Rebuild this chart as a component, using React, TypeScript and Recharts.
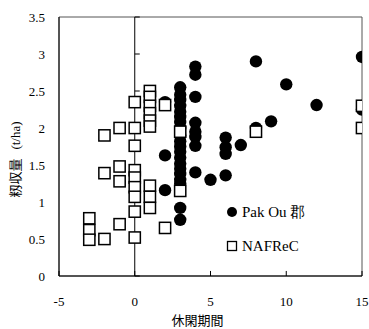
import {
  ScatterChart,
  Scatter,
  XAxis,
  YAxis,
  ReferenceLine,
  ReferenceArea,
  Legend,
} from "recharts";

// Pak Ou 郡 (black circles)
const pakOuX = [
  2, 2, 2,
  3, 3, 3, 3, 3, 3, 3, 3, 3, 3, 3, 3, 3, 3, 3, 3, 3, 3, 3, 3,
  4, 4, 4, 4, 4, 4, 4, 4,
  5,
  6, 6, 6, 6,
  7,
  8, 8,
  9,
  10,
  12,
  15, 15,
];
const pakOuY = [
  2.35, 1.63, 1.16,
  2.55, 2.45, 2.38, 2.3, 2.22, 2.15, 2.08, 2.0, 1.9, 1.82, 1.75, 1.68, 1.6, 1.52, 1.45, 1.38, 1.3, 1.25, 0.92, 0.76,
  2.83, 2.72, 2.42, 2.07, 1.95, 1.88, 1.76, 1.4,
  1.3,
  1.87, 1.74, 1.65, 1.36,
  1.77,
  2.9, 2.0,
  2.09,
  2.59,
  2.31,
  2.96, 2.25,
];

// NAFReC (white squares)
const nafrecX = [
  -3, -3, -3,
  -2, -2, -2,
  -1, -1, -1, -1,
  0, 0, 0, 0, 0, 0, 0, 0, 0,
  1, 1, 1, 1, 1, 1, 1, 1, 1,
  2, 2,
  3, 3,
  8,
  15, 15,
];
const nafrecY = [
  0.78, 0.62, 0.49,
  1.9, 1.39, 0.5,
  2.0, 1.48, 1.28, 0.7,
  2.35, 2.0, 1.76, 1.43, 1.33, 1.2, 1.07, 0.87, 0.52,
  2.5, 2.42, 2.3, 2.2, 2.1, 2.02, 1.22, 1.07, 0.92,
  2.31, 0.65,
  1.95, 1.15,
  1.95,
  2.3, 2.0,
];

const xTicks = [-5, 0, 5, 10, 15];
const yTicks = [0, 0.5, 1, 1.5, 2, 2.5, 3, 3.5];
const seriesNames = ["Pak Ou 郡", "NAFReC"];

const pakOuData = pakOuX.map((x, i) => ({ x, y: pakOuY[i] }));
const nafrecData = nafrecX.map((x, i) => ({ x, y: nafrecY[i] }));

const serif = "Liberation Serif, Times, serif";
const cjk = "Noto Sans CJK JP, sans-serif";

const CircleDot = (props: any) => (
  <circle cx={props.cx} cy={props.cy} r={6.2} fill="#000" />
);

const SquareDot = (props: any) => (
  <rect
    x={props.cx - 5.6}
    y={props.cy - 5.6}
    width={11.2}
    height={11.2}
    fill="#fff"
    stroke="#000"
    strokeWidth={1.5}
  />
);

const renderLegend = (props: any) => {
  const items = [...(props.payload || [])].sort(
    (a: any, b: any) => seriesNames.indexOf(a.value) - seriesNames.indexOf(b.value)
  );
  return (
    <div style={{ fontFamily: serif, fontSize: 15, color: "#000" }}>
      {items.map((entry: any) => (
        <div
          key={entry.value}
          style={{ display: "flex", alignItems: "center", height: 34 }}
        >
          <svg width={12} height={12}>
            {entry.value === seriesNames[0] ? (
              <circle cx={6} cy={6} r={5} fill="#000" />
            ) : (
              <rect
                x={1.5}
                y={1.5}
                width={9}
                height={9}
                fill="#fff"
                stroke="#000"
                strokeWidth={1.3}
              />
            )}
          </svg>
          <span style={{ marginLeft: 4, whiteSpace: "nowrap" }}>
            {entry.value}
          </span>
        </div>
      ))}
    </div>
  );
};

const YLabel = (props: any) => {
  const vb = props.viewBox || { x: 0, y: 0, width: 0, height: 0 };
  const cx = vb.x + 20;
  const cy = vb.y + vb.height / 2 + 13;
  return (
    <text
      x={cx}
      y={cy}
      transform={`rotate(-90, ${cx}, ${cy})`}
      textAnchor="middle"
      fill="#000"
    >
      <tspan fontFamily={cjk} fontSize={13}>
        籾収量
      </tspan>
      <tspan fontFamily={serif} fontSize={13} dx={9}>
        (t/ha)
      </tspan>
    </text>
  );
};

const XLabel = (props: any) => {
  const vb = props.viewBox || { x: 0, y: 0, width: 0, height: 0 };
  return (
    <text
      x={vb.x + vb.width / 2 - 13}
      y={vb.y + 49}
      textAnchor="middle"
      fontFamily={cjk}
      fontSize={13}
      fill="#000"
    >
      休閑期間
    </text>
  );
};

export default function App() {
  return (
    <div style={{ position: "absolute", left: 0, top: 0, background: "#fff" }}>
      <ScatterChart
        width={369}
        height={329}
        margin={{ top: 17, right: 7, bottom: 0, left: 0 }}
        style={{ fontFamily: serif }}
      >
        <ReferenceArea
          x1={-5}
          x2={15}
          y1={0}
          y2={3.5}
          fill="none"
          fillOpacity={0}
          stroke="#555"
          strokeWidth={1}
          ifOverflow="visible"
        />
        <ReferenceLine x={0} stroke="#000" strokeWidth={1} />
        {yTicks.map((t) => (
          <ReferenceLine
            key={"yt" + t}
            segment={[
              { x: 0, y: t },
              { x: 0.33, y: t },
            ]}
            stroke="#000"
            strokeWidth={1}
          />
        ))}
        {xTicks.map((t) => (
          <ReferenceLine
            key={"xt" + t}
            segment={[
              { x: t, y: 0 },
              { x: t, y: 0.068 },
            ]}
            stroke="#000"
            strokeWidth={1}
          />
        ))}
        <XAxis
          type="number"
          dataKey="x"
          domain={[-5, 15]}
          ticks={xTicks}
          allowDataOverflow
          height={53}
          tickLine={false}
          tickMargin={15}
          axisLine={{ stroke: "#000" }}
          tick={{ fill: "#000", fontFamily: serif, fontSize: 13 }}
          label={{ content: XLabel }}
        />
        <YAxis
          type="number"
          dataKey="y"
          domain={[0, 3.5]}
          ticks={yTicks}
          allowDataOverflow
          width={59}
          tickLine={false}
          tickMargin={8}
          axisLine={{ stroke: "#000" }}
          tick={{ fill: "#000", fontFamily: serif, fontSize: 13 }}
          label={{ content: YLabel }}
        />
        <Scatter
          name={seriesNames[0]}
          data={pakOuData}
          shape={CircleDot}
          fill="#000"
          isAnimationActive={false}
        />
        <Scatter
          name={seriesNames[1]}
          data={nafrecData}
          shape={SquareDot}
          fill="#fff"
          isAnimationActive={false}
        />
        <Legend
          layout="vertical"
          align="center"
          verticalAlign="middle"
          wrapperStyle={{ left: 226, top: 195, width: 130 }}
          content={renderLegend}
        />
      </ScatterChart>
    </div>
  );
}
